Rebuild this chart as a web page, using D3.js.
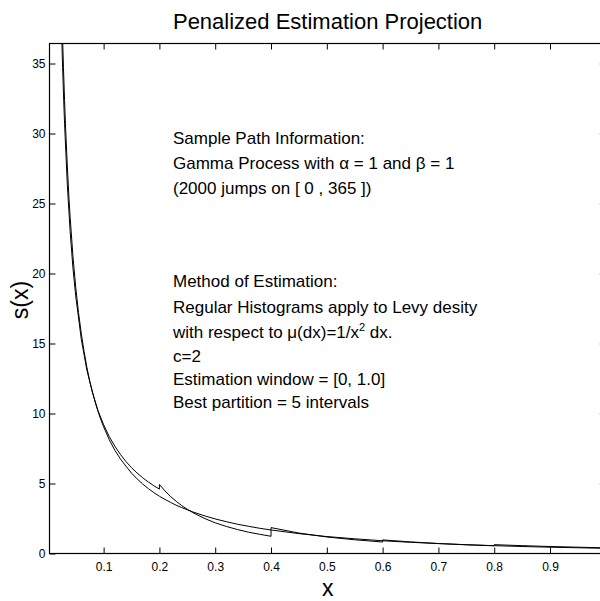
<!DOCTYPE html>
<html>
<head>
<meta charset="utf-8">
<script src="https://cdn.jsdelivr.net/npm/d3@7"></script>
<style>
  html, body { margin: 0; padding: 0; background: #fff; }
  svg { display: block; font-family: "Liberation Sans", Arial, Helvetica, sans-serif; }
</style>
</head>
<body>
<div id="chart"></div>
<script>
// ---- data ----
const titleText = "Penalized Estimation Projection";
const xLabel = "x";
const yLabel = "s(x)";
const xTicks = [0.1, 0.2, 0.3, 0.4, 0.5, 0.6, 0.7, 0.8, 0.9];
const xTickLabels = ["0.1", "0.2", "0.3", "0.4", "0.5", "0.6", "0.7", "0.8", "0.9"];
const yTicks = [0, 5, 10, 15, 20, 25, 30, 35];
const yTickLabels = ["0", "5", "10", "15", "20", "25", "30", "35"];
const xDomain = [0.003, 1.0];
const yDomain = [0, 36.43];

// true Levy density (smooth curve)
const trueX = [0.025, 0.0265, 0.028, 0.03, 0.032, 0.035, 0.038, 0.04, 0.045, 0.05, 0.055, 0.06, 0.065, 0.07, 0.075, 0.08, 0.085, 0.09, 0.095, 0.10,
               0.11, 0.12, 0.13, 0.14, 0.15, 0.16, 0.17, 0.18, 0.19, 0.20, 0.21, 0.22, 0.23, 0.24, 0.25, 0.26, 0.28, 0.30, 0.32, 0.34, 0.36, 0.38, 0.40,
               0.45, 0.50, 0.55, 0.60, 0.65, 0.70, 0.75, 0.80, 0.85, 0.90, 0.95, 1.00];
const trueY = [39.0, 36.77, 34.73, 32.35, 30.27, 27.61, 25.31, 24.02, 21.24, 19.02, 17.21, 15.70, 14.42, 13.30, 12.33, 11.54, 10.79, 10.14, 9.56, 9.05,
               8.14, 7.38, 6.76, 6.24, 5.74, 5.33, 4.96, 4.64, 4.35, 4.09, 3.86, 3.65, 3.45, 3.28, 3.12, 2.97, 2.70, 2.47, 2.27, 2.09, 1.94, 1.80, 1.68,
               1.42, 1.21, 1.05, 0.91, 0.80, 0.71, 0.63, 0.56, 0.50, 0.45, 0.41, 0.37];

// penalized histogram projection (piecewise, jumps at 0.2, 0.4, 0.6, 0.8)
const estX = [0.024, 0.026, 0.028, 0.03, 0.035, 0.04, 0.045, 0.05, 0.06, 0.07, 0.08, 0.09, 0.10, 0.11, 0.12, 0.13, 0.14, 0.15, 0.16, 0.17, 0.18, 0.19, 0.20,
              0.20, 0.21, 0.22, 0.23, 0.24, 0.25, 0.26, 0.28, 0.30, 0.32, 0.34, 0.36, 0.38, 0.40,
              0.40, 0.45, 0.50, 0.55, 0.60,
              0.60, 0.65, 0.70, 0.75, 0.80,
              0.80, 0.85, 0.90, 0.95, 1.00];
const estY = [38.3, 35.4, 32.9, 30.7, 26.3, 23.0, 20.4, 18.4, 15.3, 13.1, 11.5, 10.2, 9.2, 8.36, 7.67, 7.08, 6.57, 6.13, 5.75, 5.41, 5.11, 4.84, 4.6,
              4.93, 4.47, 4.07, 3.73, 3.42, 3.16, 2.92, 2.52, 2.19, 1.93, 1.71, 1.52, 1.37, 1.23,
              1.85, 1.46, 1.18, 0.98, 0.82,
              0.97, 0.83, 0.71, 0.62, 0.55,
              0.63, 0.56, 0.50, 0.45, 0.40];

const infoLines1 = ["Sample Path Information:", "Gamma Process with \u03B1 = 1 and \u03B2 = 1", "(2000 jumps on [ 0 , 365 ])"];
const infoBaselines1 = [144, 169, 194];
const infoLines2 = ["Method of Estimation:", "Regular Histograms apply to Levy desity", "MU_LINE", "c=2", "Estimation window = [0, 1.0]", "Best partition = 5 intervals"];
const infoBaselines2 = [287, 313, 338, 362, 385, 408];

// ---- drawing ----
const W = 600, H = 601;
const mLeft = 49.5, mRight = 605.8, mTop = 43.5, mBottom = 553.5;
const cx = (mLeft + mRight) / 2;

const svg = d3.select("#chart").append("svg").attr("width", W).attr("height", H);

const x = d3.scaleLinear().domain(xDomain).range([mLeft, mRight]);
const y = d3.scaleLinear().domain(yDomain).range([mBottom, mTop]);

svg.append("defs").append("clipPath").attr("id", "clip")
  .append("rect").attr("x", mLeft).attr("y", mTop).attr("width", mRight - mLeft).attr("height", mBottom - mTop);

const fmtX = (d, i) => xTickLabels[i];
const fmtY = (d, i) => yTickLabels[i];

const gx = svg.append("g").attr("transform", `translate(0,${mBottom})`)
  .call(d3.axisBottom(x).tickValues(xTicks).tickFormat(fmtX).tickSizeInner(-6).tickSizeOuter(0).tickPadding(9));
const gxt = svg.append("g").attr("transform", `translate(0,${mTop})`)
  .call(d3.axisTop(x).tickValues(xTicks).tickFormat("").tickSizeInner(-6).tickSizeOuter(0));
const gy = svg.append("g").attr("transform", `translate(${mLeft},0)`)
  .call(d3.axisLeft(y).tickValues(yTicks).tickFormat(fmtY).tickSizeInner(-6).tickSizeOuter(0).tickPadding(4));
const gyr = svg.append("g").attr("transform", `translate(${mRight},0)`)
  .call(d3.axisRight(y).tickValues(yTicks).tickFormat("").tickSizeInner(-6).tickSizeOuter(0));

[gx, gxt, gy, gyr].forEach(g => {
  g.select(".domain").remove();
  g.selectAll(".tick line").attr("stroke", "#000").attr("stroke-width", 1);
  g.selectAll(".tick text").attr("fill", "#000").attr("font-size", 12)
    .attr("font-family", "'Liberation Sans', Arial, sans-serif");
});

svg.append("rect").attr("x", mLeft).attr("y", mTop).attr("width", mRight - mLeft).attr("height", mBottom - mTop)
  .attr("fill", "none").attr("stroke", "#000").attr("stroke-width", 1.2);

const line = d3.line().x(d => x(d[0])).y(d => y(d[1]));
const plot = svg.append("g").attr("clip-path", "url(#clip)");
plot.append("path").datum(trueX.map((v, i) => [v, trueY[i]]))
  .attr("d", line).attr("fill", "none").attr("stroke", "#000").attr("stroke-width", 1);
plot.append("path").datum(estX.map((v, i) => [v, estY[i]]))
  .attr("d", line).attr("fill", "none").attr("stroke", "#000").attr("stroke-width", 1);

svg.append("text").attr("x", cx).attr("y", 29).attr("text-anchor", "middle")
  .attr("font-size", 22).attr("fill", "#000").text(titleText);
svg.append("text").attr("x", cx).attr("y", 596).attr("text-anchor", "middle")
  .attr("font-size", 23).attr("fill", "#000").text(xLabel);
svg.append("text").attr("transform", "translate(28,300) rotate(-90)").attr("text-anchor", "middle")
  .attr("font-size", 23).attr("fill", "#000").text(yLabel);

const tx = 173;
infoLines1.forEach((t, i) => {
  svg.append("text").attr("x", tx).attr("y", infoBaselines1[i]).attr("font-size", 17).attr("fill", "#000").text(t);
});
infoLines2.forEach((t, i) => {
  const el = svg.append("text").attr("x", tx).attr("y", infoBaselines2[i]).attr("font-size", 17).attr("fill", "#000");
  if (t === "MU_LINE") {
    el.append("tspan").text("with respect to \u03BC(dx)=1/x");
    el.append("tspan").attr("font-size", 11).attr("dy", -7).text("2");
    el.append("tspan").attr("dy", 7).text(" dx.");
  } else {
    el.text(t);
  }
});
</script>
</body>
</html>
